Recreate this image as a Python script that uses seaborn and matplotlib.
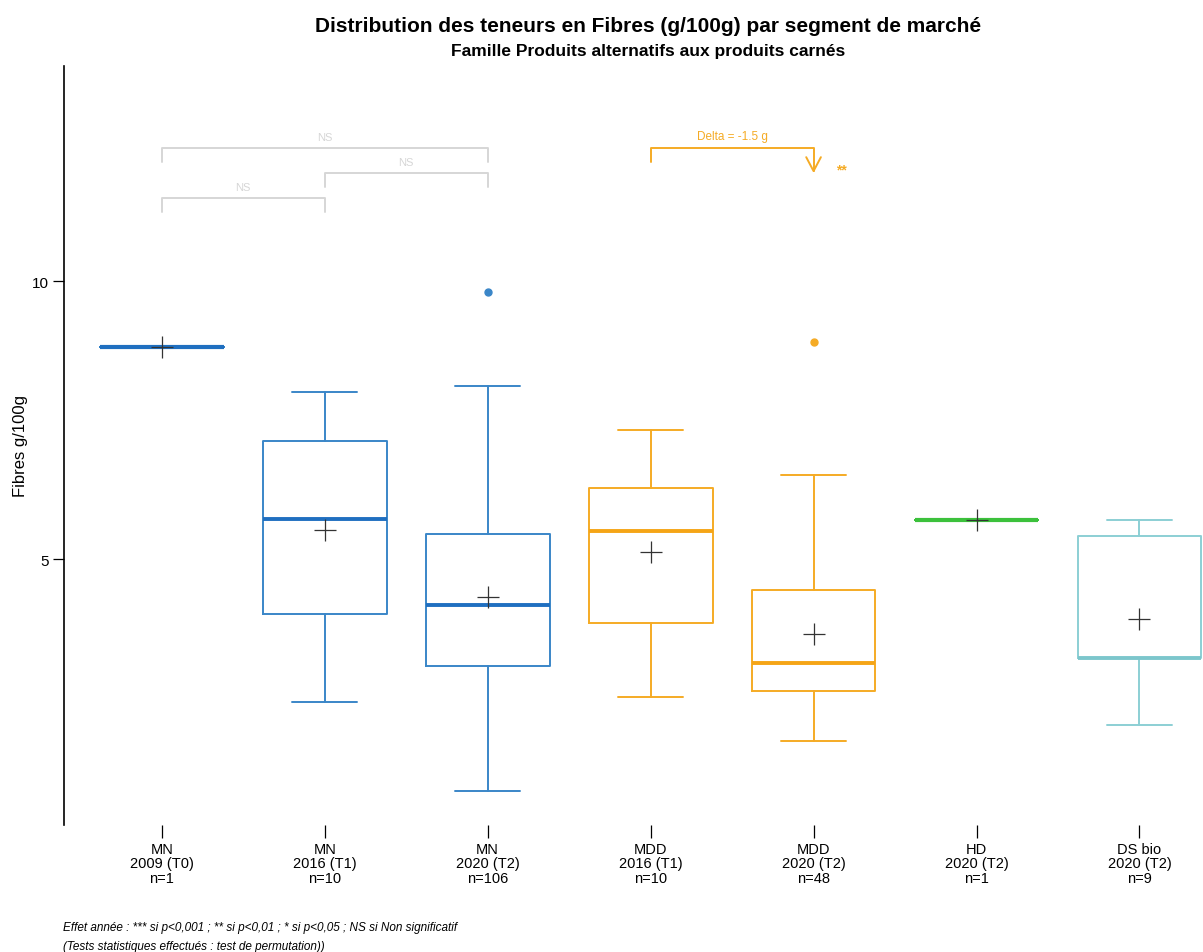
import matplotlib
matplotlib.use("Agg")
import matplotlib.pyplot as plt
import seaborn as sns
import pandas as pd

sns.set_style("white")
plt.rcParams['font.family'] = ['Liberation Sans', 'DejaVu Sans']
plt.rcParams['text.color'] = 'black'
plt.rcParams['axes.labelcolor'] = 'black'
plt.rcParams['xtick.color'] = 'black'
plt.rcParams['ytick.color'] = 'black'

# segments de marché
segments = ["MN\n2009 (T0)\nn=1", "MN\n2016 (T1)\nn=10", "MN\n2020 (T2)\nn=106",
            "MDD\n2016 (T1)\nn=10", "MDD\n2020 (T2)\nn=48", "HD\n2020 (T2)\nn=1",
            "DS bio\n2020 (T2)\nn=9"]

# statistiques (g/100g)
whisker_low = [8.81, 2.43, 0.83, 2.52, 1.73, 5.71, 2.02]
q1 = [8.81, 4.01, 3.08, 3.85, 2.63, 5.71, 3.22]
median = [8.81, 5.72, 4.17, 5.51, 3.13, 5.71, 3.22]
q3 = [8.81, 7.12, 5.45, 6.28, 4.44, 5.71, 5.42]
whisker_high = [8.81, 8.00, 8.11, 7.32, 6.51, 5.71, 5.71]
mean = [8.81, 5.52, 4.32, 5.13, 3.65, 5.71, 3.92]
outliers = [[], [], [9.80], [], [8.90], [], []]

colors = ["#2f7fc6", "#3a86c8", "#3a86c8", "#f5ab25", "#f5ab25", "#3cc13c", "#8ccfd4"]
median_colors = ["#1f6fc0", "#1f6fc0", "#1f6fc0", "#f5a516", "#f5a516", "#3cc13c", "#7cc6cc"]

fig = plt.figure(figsize=(12.03, 9.53), dpi=100)
ax = fig.add_axes([0.0532, 0.1333, 0.9468, 0.7964])

for i in range(len(segments)):
    stats = [dict(whislo=whisker_low[i], q1=q1[i], med=median[i], q3=q3[i],
                  whishi=whisker_high[i], fliers=outliers[i], mean=mean[i])]
    c = colors[i]
    ax.bxp(stats, positions=[i], widths=0.76, capwidths=0.4, showmeans=False,
           patch_artist=False, manage_ticks=False,
           boxprops=dict(color=c, linewidth=1.4),
           whiskerprops=dict(color=c, linewidth=1.4),
           capprops=dict(color=c, linewidth=1.4),
           medianprops=dict(color=median_colors[i], linewidth=2.8 if i not in (0, 5) else 3.0),
           flierprops=dict(marker='o', markerfacecolor=c, markeredgecolor=c, markersize=5))

# moyennes
df_mean = pd.DataFrame({"pos": range(len(segments)), "mean": mean})
sns.scatterplot(data=df_mean, x="pos", y="mean", marker="+", s=260, color="#333333",
                linewidth=0.9, ax=ax, zorder=5, legend=False)

ax.set_xlim(-0.6, 6.39)
ax.set_ylim(0.22, 13.87)
ax.set_xticks(range(len(segments)))
ax.set_xticklabels(segments, fontsize=10.5, linespacing=1.05)
ax.set_yticks([5, 10])
ax.set_yticklabels(["5", "10"], fontsize=11)
ax.tick_params(axis='x', length=9, width=0.9, color='black', pad=3, direction='out', bottom=True)
ax.tick_params(axis='y', length=8, width=0.9, color='black', pad=3, direction='out', left=True)
ax.set_xlabel("")
ax.set_ylabel("Fibres g/100g", fontsize=12)
ax.yaxis.set_label_coords(-0.032, 0.5)
for s in ["top", "right", "bottom"]:
    ax.spines[s].set_visible(False)
ax.spines["left"].set_color("black")
ax.spines["left"].set_linewidth(1.2)

# comparaisons
gray = "#d6d6d6"
brackets = [(0, 2, 12.39, 12.14, "NS"), (1, 2, 11.94, 11.69, "NS"), (0, 1, 11.49, 11.24, "NS")]
for a, b, top, leg, lab in brackets:
    ax.plot([a, a, b, b], [leg, top, top, leg], color=gray, linewidth=1.4, clip_on=False)
    ax.text((a + b) / 2, top + 0.12, lab, color=gray, fontsize=8, ha="center", va="bottom")

orange = "#f5ab25"
ax.plot([3, 3, 4, 4], [12.14, 12.39, 12.39, 11.98], color=orange, linewidth=1.4)
ax.plot([3.955, 4, 4.045], [12.23, 11.98, 12.23], color=orange, linewidth=1.4)
ax.text(3.5, 12.51, "Delta = -1.5 g", color=orange, fontsize=8.5, ha="center", va="bottom")
ax.text(4.17, 12.01, "**", color=orange, fontsize=10, ha="center", va="center", fontweight="bold")

fig.text(0.539, 0.972, "Distribution des teneurs en Fibres (g/100g) par segment de marché",
         fontsize=15, fontweight="bold", ha="center", va="center")
fig.text(0.539, 0.946, "Famille Produits alternatifs aux produits carnés",
         fontsize=12.5, fontweight="bold", ha="center", va="center")

fig.text(0.052, 0.026, "Effet année : *** si p<0,001 ; ** si p<0,01 ; * si p<0,05 ; NS si Non significatif",
         fontsize=8.5, style="italic", ha="left", va="center")
fig.text(0.052, 0.006, "(Tests statistiques effectués : test de permutation))",
         fontsize=8.5, style="italic", ha="left", va="center")

fig.savefig("out.png", dpi=100)
